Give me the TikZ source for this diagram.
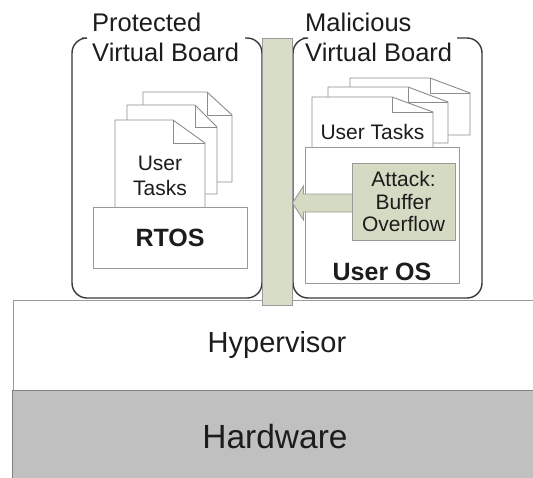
\documentclass[tikz,border=0pt]{standalone}
\usepackage{fontspec}
\setmainfont{Liberation Sans}
\usetikzlibrary{calc}

\definecolor{sepgreen}{HTML}{D8DDC7}
\definecolor{attackgreen}{HTML}{D5DBC2}
\definecolor{hwgray}{HTML}{C0C0C0}
\definecolor{boxline}{HTML}{9A9A9A}
\definecolor{pagegray}{HTML}{8C8C8C}
\definecolor{boardline}{HTML}{383838}
\definecolor{ink}{HTML}{1C1C1C}

% one sheet of paper with its top right corner folded over
% #1 left, #2 top, #3 right, #4 bottom, #5 fold x, #6 fold y
\newcommand{\foldpage}[6]{%
  \draw[pageline, fill=white] (#1,#4) -- (#1,#2) -- (#5,#2) -- (#3,#6) -- (#3,#4) -- cycle;
  \draw[pageline] (#5,#2) -- (#5,#6) -- (#3,#6);
}

\tikzset{
  pageline/.style={draw=pagegray, line width=0.9pt, line join=round},
  boardframe/.style={draw=boardline, line width=1.4pt, rounded corners=15pt},
  osbox/.style={draw=boxline, line width=0.9pt, fill=white, inner sep=0pt},
  layerbox/.style={draw=boxline, line width=1pt, inner sep=0pt, anchor=north west},
  title/.style={text=ink, font=\fontsize{25.5}{30}\selectfont, inner sep=0pt, anchor=west},
  tasklabel/.style={text=ink, font=\fontsize{21}{25}\selectfont, align=center, inner sep=0pt},
  boldlabel/.style={text=ink, font=\fontsize{25}{30}\selectfont\bfseries, inner sep=0pt},
}

\begin{document}
\begin{tikzpicture}[x=1pt, y=-1pt]
\useasboundingbox (0,0) rectangle (533,477);
\clip (0,0) rectangle (533,477);

% platform layers
\node[layerbox, fill=white, minimum width=530pt, minimum height=90pt] (hyp) at (13,300) {};
\node[layerbox, fill=hwgray, draw=gray, minimum width=530pt, minimum height=92pt] (hw) at (12,390) {};
\node[text=ink, font=\fontsize{29}{34}\selectfont] (hyplabel) at (277,345) {Hypervisor};
\node[text=ink, font=\fontsize{33.5}{38}\selectfont] (hwlabel) at (275,437) {Hardware};

% virtual board frames, open at the top where the titles sit
\draw[boardframe] (82,38) -- (72,38) -- (72,298) -- (262,298) -- (262,38) -- (245,38);
\draw[boardframe] (303,38) -- (293,38) -- (293,298) -- (482,298) -- (482,38) -- (457,38);

% isolation bar between the boards
\node[draw=boxline, fill=sepgreen, line width=0.9pt, minimum width=30pt, minimum height=267pt, inner sep=0pt] (bar) at (277,171.5) {};

% board titles
\node[title] (pt1) at (92,22) {Protected};
\node[title] (pt2) at (92,52) {Virtual Board};
\node[title] (mt1) at (305,22) {Malicious};
\node[title] (mt2) at (305,52) {Virtual Board};

% protected board: task sheets and RTOS
\foldpage{143}{92}{232}{182}{207}{115}
\foldpage{127}{105}{217}{194}{195}{127}
\foldpage{115}{120}{205}{215}{173}{143}
\node[tasklabel] (ptasks) at (160,176) {User\\Tasks};
\node[osbox, minimum width=154pt, minimum height=61pt] (rtos) at (170,237.5) {};
\node[boldlabel] (rtoslabel) at (rtos.center) {RTOS};

% malicious board: task sheets and user OS
\foldpage{350}{78}{470}{135}{430}{93}
\foldpage{328}{87}{448}{143}{408}{102}
\foldpage{312}{97}{433}{155}{392}{112}
\node[tasklabel] (mtasks) at (372.5,132) {User Tasks};
\node[osbox, minimum width=154pt, minimum height=136pt] (uos) at (382,215) {};
\node[boldlabel, anchor=south] (uoslabel) at ([yshift=3pt]uos.south) {User OS};

% attack pushing against the isolation bar
\coordinate (tip) at (bar.east |- 0,203);
\draw[draw=boxline, fill=attackgreen, line width=0.9pt, line join=miter]
  ([yshift=9pt]tip -| 352,0) -- ([xshift=11pt,yshift=9pt]tip) -- ([xshift=11pt,yshift=17pt]tip)
  -- (tip) -- ([xshift=11pt,yshift=-17pt]tip) -- ([xshift=11pt,yshift=-9pt]tip) -- ([yshift=-9pt]tip -| 352,0);
\node[draw=boxline, fill=attackgreen, line width=0.9pt, minimum width=103pt, minimum height=77pt, inner sep=0pt] (attack) at (403.5,201.5) {};
\node[tasklabel, font=\fontsize{21}{22.5}\selectfont] (attacklabel) at (attack.center) {Attack:\\Buffer\\Overflow};
\end{tikzpicture}
\end{document}
